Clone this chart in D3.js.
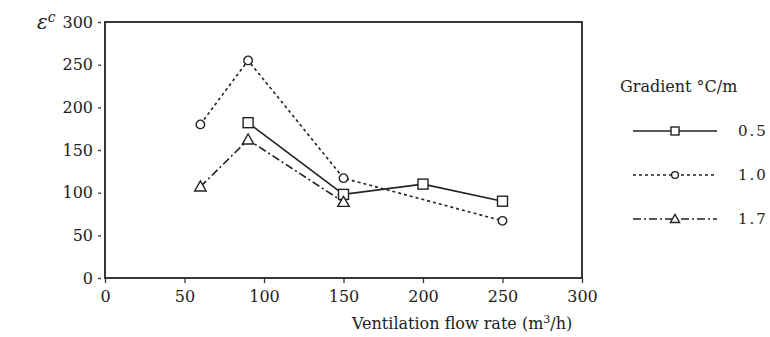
<!DOCTYPE html>
<html>
<head>
<meta charset="utf-8">
<script src="https://cdn.jsdelivr.net/npm/d3@7"></script>
<style>
  body { margin: 0; background: #fff; }
  svg text { font-family: "DejaVu Serif", "Liberation Serif", serif; fill: #222; }
</style>
</head>
<body>
<div id="chart"></div>
<script>
'use strict'

// data
const flowRates = [60, 90, 150, 200, 250]
const gradients = ['0.5', '1.0', '1.7']
const eps05 = [null, 182, 98, 110, 90]
const eps10 = [180, 255, 117, null, 67]
const eps17 = [107, 162, 89, null, null]
const xTicks = [0, 50, 100, 150, 200, 250, 300]
const yTicks = [0, 50, 100, 150, 200, 250, 300]

const W = 770, H = 337
const margin = { top: 22, right: 188, bottom: 59, left: 105 }
const width = W - margin.left - margin.right,
    height = H - margin.top - margin.bottom

const svg = d3.select('#chart').append('svg')
    .attr('width', W)
    .attr('height', H)

const g = svg.append('g')
    .attr('transform', 'translate(' + margin.left + ',' + margin.top + ')')

const x = d3.scaleLinear().domain([0, 300]).range([0, width]),
    y = d3.scaleLinear().domain([0, 300]).range([height, 0])

const series = [
    { name: gradients[0], values: eps05, dash: null, mark: 'square' },
    { name: gradients[1], values: eps10, dash: '3,3', mark: 'circle' },
    { name: gradients[2], values: eps17, dash: '8,3,2,3', mark: 'triangle' }
]

// frame
g.append('rect')
    .attr('width', width)
    .attr('height', height)
    .attr('fill', 'none')
    .attr('stroke', '#222')
    .attr('stroke-width', 1.8)

// axes
let xAxis = g.append('g')
    .attr('class', 'axis axis--x')
    .attr('transform', 'translate(0,' + height + ')')
    .call(d3.axisBottom(x).tickValues(xTicks).tickSize(5).tickPadding(8))
xAxis.select('.domain').remove()
xAxis.selectAll('line').attr('stroke', '#333').attr('stroke-width', 1.3)
xAxis.selectAll('text').style('font-size', '16px').attr('fill', '#222')

let yAxis = g.append('g')
    .attr('class', 'axis axis--y')
    .call(d3.axisLeft(y).tickValues(yTicks).tickSize(0).tickPadding(12))
yAxis.select('.domain').remove()
yAxis.selectAll('.tick').append('line')
    .attr('x1', -7).attr('x2', -4)
    .attr('stroke', '#333').attr('stroke-width', 1.3)
yAxis.selectAll('text').style('font-size', '16px').attr('fill', '#222')

// axis titles
svg.append('text')
    .attr('x', 37)
    .attr('y', margin.top + 7)
    .style('font-size', '20px')
    .style('font-style', 'italic')
    .html('ε<tspan dy="-7" style="font-size:14px">c</tspan>')

svg.append('text')
    .attr('x', 352)
    .attr('y', 329)
    .style('font-size', '16px')
    .html('Ventilation flow rate (m<tspan dy="-6" style="font-size:11px">3</tspan><tspan dy="6">/h)</tspan>')

function marker(sel, type, size) {
    if (type === 'square') {
        sel.append('rect')
            .attr('x', -size).attr('y', -size)
            .attr('width', size * 2).attr('height', size * 2)
    } else if (type === 'circle') {
        sel.append('circle').attr('r', size * 0.85)
    } else {
        let s = size * 1.15
        sel.append('path')
            .attr('d', 'M0,' + (-s) + 'L' + s + ',' + (s * 0.75) + 'L' + (-s) + ',' + (s * 0.75) + 'Z')
    }
    sel.selectAll('*')
        .attr('fill', '#fff')
        .attr('stroke', '#222')
        .attr('stroke-width', 1.4)
}

let line = d3.line()
    .x(function(d) { return x(d.k) })
    .y(function(d) { return y(d.v) })

series.forEach(function(s) {
    let data = flowRates.map(function(k, i) { return { k: k, v: s.values[i] } })
        .filter(function(d) { return d.v != null })
    g.append('path')
        .datum(data)
        .attr('class', 'line')
        .attr('fill', 'none')
        .attr('stroke', '#222')
        .attr('stroke-width', 1.6)
        .attr('stroke-dasharray', s.dash)
        .attr('d', line)

    data.forEach(function(d) {
        let m = g.append('g')
            .attr('transform', 'translate(' + x(d.k) + ',' + y(d.v) + ')')
        marker(m, s.mark, 5)
    })
})

// legend
let legend = svg.append('g')
    .attr('transform', 'translate(620,0)')

legend.append('text')
    .attr('x', 0)
    .attr('y', 92)
    .style('font-size', '16px')
    .text('Gradient °C/m')

series.forEach(function(s, i) {
    let ly = 131 + i * 44
    let row = legend.append('g')
    row.append('line')
        .attr('x1', 13).attr('x2', 97)
        .attr('y1', ly).attr('y2', ly)
        .attr('stroke', '#222')
        .attr('stroke-width', 1.6)
        .attr('stroke-dasharray', s.dash)
    let m = row.append('g').attr('transform', 'translate(55,' + ly + ')')
    marker(m, s.mark, 4)
    row.append('text')
        .attr('x', 118)
        .attr('y', ly + 5)
        .style('font-size', '15px')
        .style('letter-spacing', '2px')
        .text(s.name)
})
</script>
</body>
</html>
